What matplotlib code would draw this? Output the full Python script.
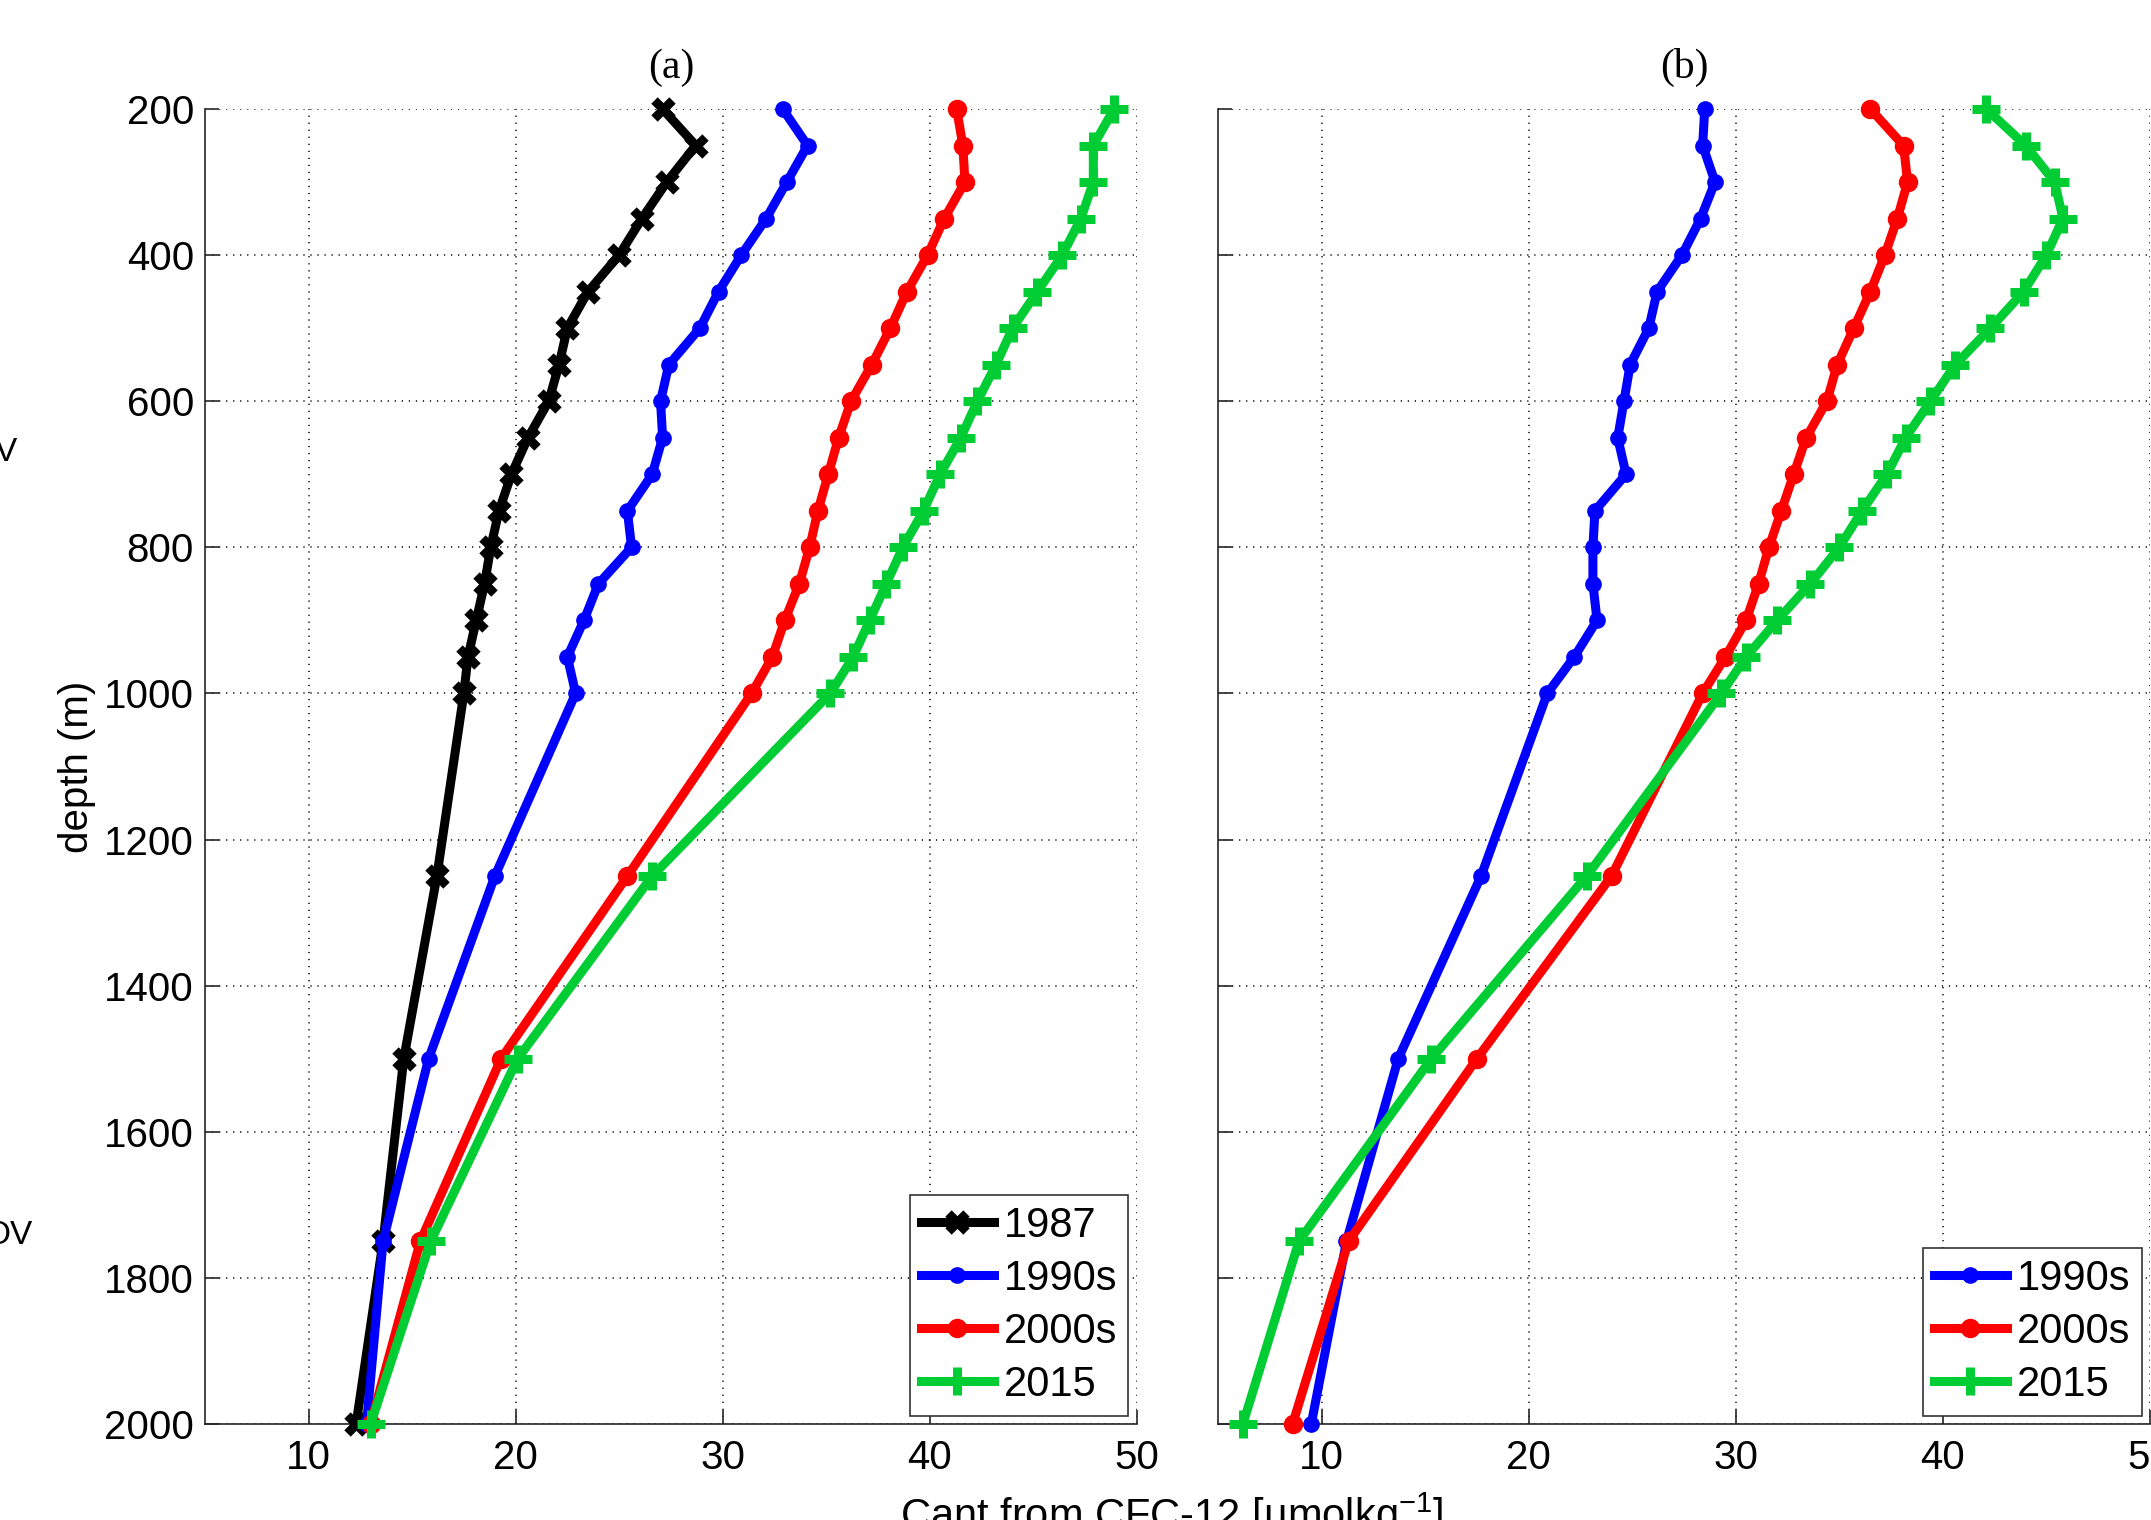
import matplotlib
matplotlib.use("Agg")
import matplotlib.pyplot as plt
import numpy as np

plt.rcParams["font.family"] = ["Liberation Sans", "DejaVu Sans"]
plt.rcParams["mathtext.fontset"] = "custom"
plt.rcParams["mathtext.rm"] = "Liberation Sans"
plt.rcParams["mathtext.it"] = "Liberation Sans"

# depth levels (m)
depth = [200, 250, 300, 350, 400, 450, 500, 550, 600, 650, 700, 750, 800,
         850, 900, 950, 1000, 1250, 1500, 1750, 2000]

# panel (a)
a_1987 = [27.1, 28.7, 27.3, 26.1, 25.0, 23.5, 22.5, 22.1, 21.6, 20.6, 19.8,
          19.2, 18.8, 18.5, 18.1, 17.7, 17.5, 16.2, 14.6, 13.6, 12.3]
a_1990s = [32.9, 34.1, 33.1, 32.1, 30.9, 29.8, 28.9, 27.4, 27.0, 27.1, 26.6,
           25.4, 25.6, 24.0, 23.3, 22.5, 22.9, 19.0, 15.8, 13.6, 12.8]
a_2000s = [41.3, 41.6, 41.7, 40.7, 39.9, 38.9, 38.1, 37.2, 36.2, 35.6, 35.1,
           34.6, 34.2, 33.7, 33.0, 32.4, 31.4, 25.4, 19.3, 15.4, 13.0]
a_2015 = [48.9, 47.9, 47.9, 47.3, 46.4, 45.2, 44.0, 43.2, 42.3, 41.5, 40.5,
          39.7, 38.7, 37.9, 37.1, 36.3, 35.2, 26.6, 20.1, 15.9, 13.0]

# panel (b)
b_1990s = [28.5, 28.4, 29.0, 28.3, 27.4, 26.2, 25.8, 24.9, 24.6, 24.3, 24.7,
           23.2, 23.1, 23.1, 23.3, 22.2, 20.9, 17.7, 13.7, 11.2, 9.5]
b_2000s = [36.5, 38.1, 38.3, 37.8, 37.2, 36.5, 35.7, 34.9, 34.4, 33.4, 32.8,
           32.2, 31.6, 31.1, 30.5, 29.5, 28.4, 24.0, 17.5, 11.3, 8.6]
b_2015 = [42.1, 44.0, 45.4, 45.8, 45.0, 43.9, 42.3, 40.6, 39.4, 38.2, 37.3,
          36.1, 35.0, 33.6, 32.0, 30.5, 29.3, 22.8, 15.3, 8.9, 6.2]

xticks = [10, 20, 30, 40, 50]
yticks = [200, 400, 600, 800, 1000, 1200, 1400, 1600, 1800, 2000]

GREEN = "#00cc33"
styles = {
    "1987": dict(color="black", marker="x", ms=13, mew=6.5),
    "1990s": dict(color="blue", marker="o", ms=11, mew=1),
    "2000s": dict(color="red", marker="o", ms=13, mew=1),
    "2015": dict(color=GREEN, marker="+", ms=20, mew=6.5),
}

fig = plt.figure(figsize=(21.51, 15.20), dpi=100)
ax1 = fig.add_axes([0.0953, 0.0632, 0.4332, 0.8651])
ax2 = fig.add_axes([0.5663, 0.0632, 0.4332, 0.8651])


def style_axes(ax, show_ylabels):
    ax.set_xlim(5, 50)
    ax.set_ylim(2000, 200)
    ax.set_xticks(xticks)
    ax.set_yticks(yticks)
    for s in ["top", "right"]:
        ax.spines[s].set_visible(False)
    for s in ["left", "bottom"]:
        ax.spines[s].set_color("#262626")
        ax.spines[s].set_linewidth(1.2)
    ax.tick_params(direction="in", length=10, width=1.2, color="#262626",
                   labelsize=29)
    ax.tick_params(axis="x", pad=11)
    ax.tick_params(axis="y", pad=8, labelleft=show_ylabels)
    ax.grid(True, color="black", linestyle=(0, (0.8, 3.8)), linewidth=1.1)
    ax.set_axisbelow(True)


def draw(ax, series):
    for name, vals in series:
        st = styles[name]
        ax.plot(vals, depth, color=st["color"], lw=6.5, marker=st["marker"],
                ms=st["ms"], mew=st["mew"], mec=st["color"], mfc=st["color"],
                label=name, clip_on=False, zorder=3)
    leg = ax.legend(loc="lower right", fontsize=30, frameon=True,
                    fancybox=False, edgecolor="#333333", framealpha=1,
                    borderpad=0.26, labelspacing=0.31, handlelength=1.75,
                    handletextpad=0.25, borderaxespad=0.2, numpoints=1)
    leg.get_frame().set_linewidth(1.2)
    leg.set_zorder(5)


style_axes(ax1, True)
style_axes(ax2, False)
draw(ax1, [("1987", a_1987), ("1990s", a_1990s), ("2000s", a_2000s),
           ("2015", a_2015)])
draw(ax2, [("1990s", b_1990s), ("2000s", b_2000s), ("2015", b_2015)])

ax1.set_title("(a)", family="Liberation Serif", fontsize=30, pad=22)
ax2.set_title("(b)", family="Liberation Serif", fontsize=30, pad=22)
ax1.set_ylabel("depth (m)", fontsize=29, labelpad=5.5)

fig.text(1172 / 2151, -0.006, r"Cant from CFC-12 [µmolkg$^{-1}$]",
         ha="center", va="baseline", fontsize=30)

# labels cut off at the left edge of the original
fig.text(17 / 2151, 1 - 461 / 1520, "V", ha="right", va="baseline", fontsize=24)
fig.text(33 / 2151, 1 - 1244 / 1520, "OV", ha="right", va="baseline", fontsize=24)

fig.savefig("out.png", dpi=100)
